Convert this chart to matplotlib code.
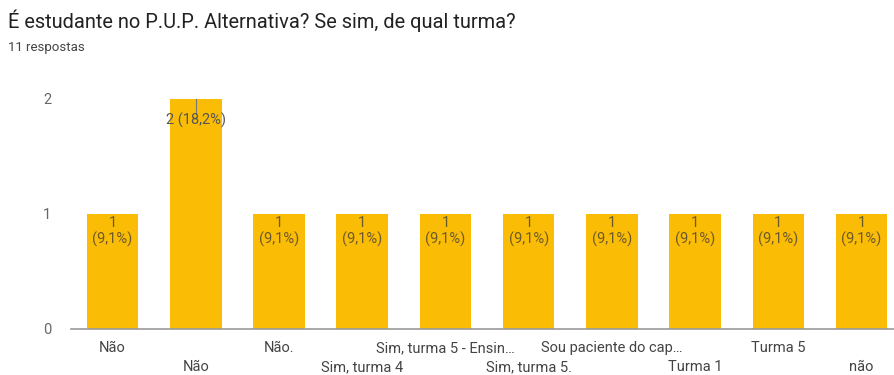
import matplotlib
matplotlib.use("Agg")
import matplotlib.pyplot as plt

# data
categories = ["Não", "Não", "Não.", "Sim, turma 4", "Sim, turma 5 - Ensin…",
              "Sim, turma 5.", "Sou paciente do cap…", "Turma 1", "Turma 5", "não"]
counts = [1, 2, 1, 1, 1, 1, 1, 1, 1, 1]
percents = ["9,1%", "18,2%", "9,1%", "9,1%", "9,1%", "9,1%", "9,1%", "9,1%", "9,1%", "9,1%"]
y_ticks = [0, 1, 2]

plt.rcParams['font.family'] = ['Roboto', 'DejaVu Sans']

fig = plt.figure(figsize=(8.94, 3.75), dpi=100)
ax = fig.add_axes([0.0794, 0.1227, 0.9206, 0.6133])

x = list(range(len(categories)))
bars = ax.bar(x, counts, width=0.62, color="#FBBC05", zorder=2)

for i, (b, c, p) in enumerate(zip(bars, counts, percents)):
    cx = b.get_x() + b.get_width() / 2
    if c == max(counts):
        ax.plot([cx, cx], [c, c - 0.13], color="#777777", lw=0.8, zorder=3)
        ax.text(cx, c - 0.12, f"{c} ({p})", ha="center", va="top",
                fontsize=10.5, color="#555555", zorder=4)
    else:
        ax.text(cx, c - 0.02, f"{c}\n({p})", ha="center", va="top",
                fontsize=10.5, color="#6b5a2a", linespacing=1.15, zorder=4)

ax.set_xlim(-0.5, 9.39)
ax.set_ylim(0, 2)
ax.set_yticks(y_ticks)
ax.set_yticklabels([str(t) for t in y_ticks], fontsize=10.5, color="#666666")
ax.tick_params(axis="y", length=0, pad=14)

ax.set_xticks(x)
ax.set_xticklabels([])
ax.tick_params(axis="x", length=0)
for i, lab in enumerate(categories):
    yoff = -0.165 if i % 2 == 0 else -0.33
    ax.text(i, yoff, lab, ha="center", va="center", fontsize=10.5,
            color="#444444", clip_on=False)

for s in ["top", "right", "left"]:
    ax.spines[s].set_visible(False)
ax.spines["bottom"].set_color("#999999")
ax.spines["bottom"].set_linewidth(1.2)

fig.text(0.009, 0.945, "É estudante no P.U.P. Alternativa? Se sim, de qual turma?",
         fontsize=14.4, color="#222222", ha="left", va="center")
fig.text(0.009, 0.873, "11 respostas", fontsize=9.5, color="#444444",
         ha="left", va="center")

fig.savefig("out.png", dpi=100)
